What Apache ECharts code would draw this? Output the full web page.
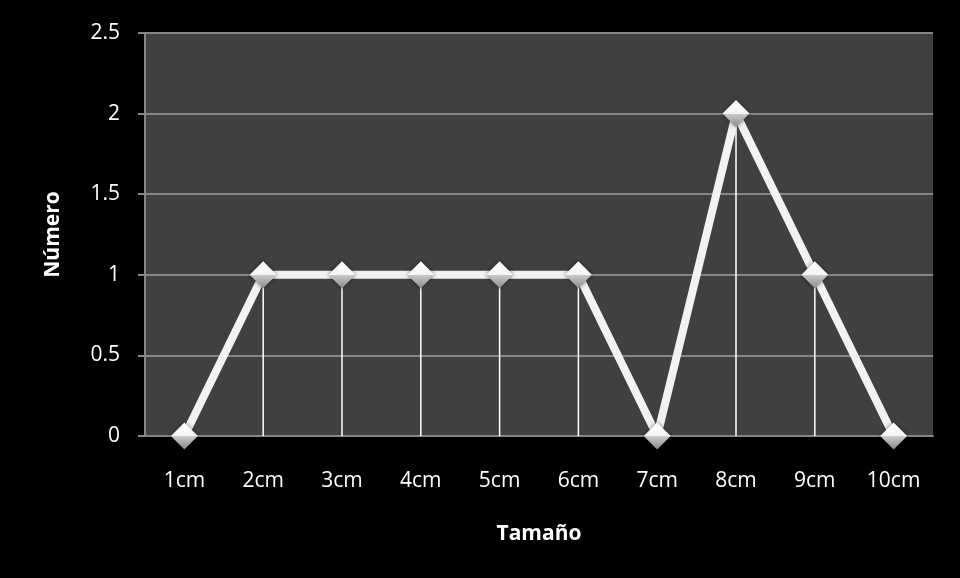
<!DOCTYPE html>
<html>
<head>
<meta charset="utf-8">
<script src="https://cdn.jsdelivr.net/npm/echarts@6/dist/echarts.min.js"></script>
<style>
  html, body { margin: 0; padding: 0; background: #000; }
  #chart { width: 960px; height: 578px; }
</style>
</head>
<body>
<div id="chart"></div>
<script>
const categories = ['1cm', '2cm', '3cm', '4cm', '5cm', '6cm', '7cm', '8cm', '9cm', '10cm'];
const counts = [0, 1, 1, 1, 1, 1, 0, 2, 1, 0];
const yTicks = { min: 0, max: 2.5, interval: 0.5 };

const font = '"Open Sans", Lato, sans-serif';
const chart = echarts.init(document.getElementById('chart'));

chart.setOption({
  backgroundColor: '#000000',
  animation: false,
  grid: {
    left: 145, right: 27, top: 33, bottom: 142,
    show: true, backgroundColor: '#404040', borderWidth: 0
  },
  xAxis: {
    type: 'category',
    data: categories,
    name: 'Tamaño',
    nameLocation: 'middle',
    nameGap: 88,
    nameTextStyle: { color: '#ffffff', fontFamily: font, fontWeight: 'bold', fontSize: 21 },
    axisLine: { lineStyle: { color: '#868686', width: 2 } },
    axisTick: { show: false },
    axisLabel: { color: '#ffffff', fontFamily: font, fontSize: 21, margin: 35 },
    splitLine: { show: false }
  },
  yAxis: {
    type: 'value',
    min: yTicks.min, max: yTicks.max, interval: yTicks.interval,
    name: 'Número',
    nameLocation: 'middle',
    nameGap: 81,
    nameTextStyle: { color: '#ffffff', fontFamily: font, fontWeight: 'bold', fontSize: 21 },
    axisLine: { show: true, lineStyle: { color: '#868686', width: 2 } },
    axisTick: { show: true, length: 7, lineStyle: { color: '#868686', width: 2 } },
    axisLabel: { color: '#ffffff', fontFamily: font, fontSize: 21, margin: 25 },
    splitLine: { lineStyle: { color: '#868686', width: 2 } }
  },
  series: [
    {
      // thin drop lines from each point to the category axis
      type: 'bar',
      data: counts,
      barWidth: 1.5,
      itemStyle: { color: '#ffffff' },
      z: 2,
      silent: true
    },
    {
      type: 'line',
      data: counts,
      symbol: 'diamond',
      symbolSize: 27,
      lineStyle: { color: '#f2f2f2', width: 8 },
      itemStyle: {
        color: new echarts.graphic.LinearGradient(0, 0, 0, 1, [
          { offset: 0, color: '#ffffff' },
          { offset: 0.5, color: '#f4f4f4' },
          { offset: 0.52, color: '#c8c8c8' },
          { offset: 1, color: '#8a8a8a' }
        ]),
        borderWidth: 0,
        shadowColor: 'rgba(0,0,0,0.5)',
        shadowBlur: 4
      },
      z: 3
    }
  ]
});
</script>
</body>
</html>
